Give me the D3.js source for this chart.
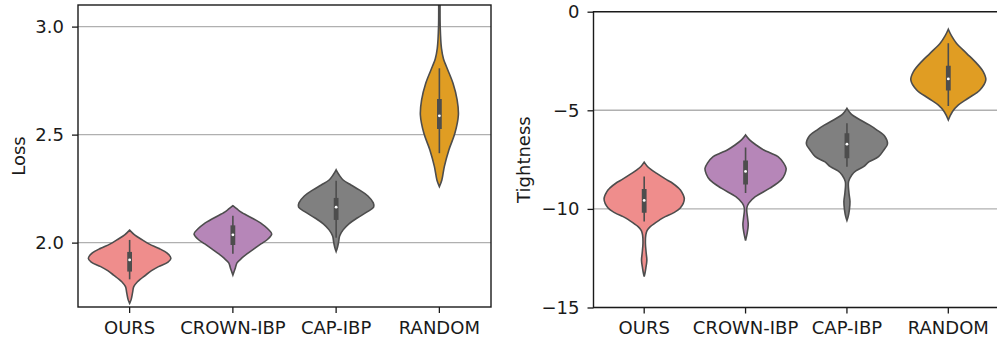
<!DOCTYPE html>
<meta charset="utf-8">
<style>
body {
  margin: 0;
  background: #fff;
}
svg {
  display: block;
}
svg text {
  font-family: "DejaVu Sans", sans-serif;
}
.grid line {
  stroke: #b0b0b0;
  stroke-width: 1.4px;
}
.axis text {
  font-family: "DejaVu Sans", sans-serif;
  font-size: 18px;
  fill: #1a1a1a;
}
.axis line {
  stroke: #1a1a1a;
  stroke-width: 1.3px;
}
.axis path {
  display: none;
}
.frame {
  fill: none;
  stroke: #1a1a1a;
  stroke-width: 1.4px;
}
.violin {
  stroke: #4d4d4d;
  stroke-width: 1.6px;
}
.ylabel {
  font-family: "DejaVu Sans", sans-serif;
  font-size: 18px;
  fill: #1a1a1a;
}
</style>
<svg width="997" height="343"></svg>
<script src="https://d3js.org/d3.v7.min.js"></script>
<script>
const methods = ["OURS", "CROWN-IBP", "CAP-IBP", "RANDOM"];
const fills = ["#ef8d8c", "#b686b8", "#808080", "#e09d23"];

// violin outlines: [value, relative density]
const lossOurs = [[2.058, 0], [2.036, 0.12], [2.0125, 0.31], [1.993, 0.48], [1.974, 0.70],
  [1.951, 0.91], [1.928, 1.0], [1.910, 0.93], [1.889, 0.70], [1.870, 0.53], [1.850, 0.39],
  [1.819, 0.19], [1.796, 0.10], [1.767, 0.07], [1.735, 0.035], [1.719, 0]];
const lossCrown = [[2.171, 0], [2.156, 0.10], [2.142, 0.19], [2.114, 0.46], [2.087, 0.70],
  [2.063, 0.85], [2.040, 0.94], [2.017, 0.85], [1.994, 0.68], [1.971, 0.51], [1.948, 0.34],
  [1.929, 0.22], [1.906, 0.10], [1.883, 0.06], [1.850, 0]];
const lossCap = [[2.337, 0], [2.314, 0.07], [2.290, 0.17], [2.267, 0.36], [2.244, 0.56],
  [2.216, 0.77], [2.184, 0.90], [2.165, 0.91], [2.142, 0.75], [2.114, 0.51], [2.087, 0.31],
  [2.059, 0.17], [2.031, 0.085], [2.003, 0.06], [1.980, 0.035], [1.959, 0]];
const lossRandom = [[3.30, 0], [3.15, 0.015], [3.00, 0.02], [2.90, 0.05], [2.85, 0.10],
  [2.815, 0.17], [2.738, 0.33], [2.661, 0.43], [2.591, 0.46], [2.506, 0.375], [2.429, 0.23],
  [2.352, 0.12], [2.290, 0.06], [2.259, 0]];

const tightOurs = [[-7.63, 0], [-7.85, 0.08], [-8.02, 0.18], [-8.19, 0.30], [-8.53, 0.56],
  [-8.70, 0.70], [-8.95, 0.85], [-9.12, 0.92], [-9.49, 0.99], [-9.96, 0.89], [-10.2, 0.72],
  [-10.39, 0.52], [-10.56, 0.38], [-10.90, 0.15], [-11.1, 0.07], [-11.32, 0.04],
  [-11.74, 0.03], [-12.25, 0.05], [-12.6, 0.066], [-13.01, 0.04], [-13.25, 0.02], [-13.43, 0]];
const tightCrown = [[-6.25, 0], [-6.5, 0.10], [-6.76, 0.26], [-7.01, 0.45], [-7.18, 0.63],
  [-7.35, 0.80], [-7.68, 0.94], [-7.94, 1.0], [-8.23, 0.97], [-8.53, 0.88], [-8.95, 0.60],
  [-9.38, 0.24], [-9.71, 0.08], [-9.96, 0.03], [-10.47, 0.05], [-10.81, 0.066],
  [-11.23, 0.04], [-11.60, 0]];
const tightCap = [[-4.90, 0], [-5.18, 0.10], [-5.49, 0.33], [-5.74, 0.55], [-6.00, 0.74],
  [-6.34, 0.94], [-6.71, 1.0], [-7.01, 0.91], [-7.35, 0.78], [-7.62, 0.54], [-7.86, 0.41],
  [-8.07, 0.22], [-8.28, 0.12], [-8.62, 0.04], [-9.20, 0.05], [-9.63, 0.075],
  [-10.05, 0.06], [-10.39, 0.03], [-10.59, 0]];
const tightRandom = [[-0.89, 0], [-1.23, 0.08], [-1.60, 0.20], [-2.11, 0.45], [-2.62, 0.70],
  [-3.04, 0.86], [-3.46, 0.925], [-3.97, 0.78], [-4.39, 0.49], [-4.73, 0.25], [-5.07, 0.10],
  [-5.49, 0]];

// inner boxes: [whisker low, q1, median, q3, whisker high]
const lossBoxes = [[1.830, 1.866, 1.920, 1.957, 2.0125], [1.948, 1.989, 2.036, 2.080, 2.124],
  [2.022, 2.105, 2.164, 2.207, 2.287], [2.414, 2.526, 2.587, 2.665, 2.807]];
const tightBoxes = [[-10.64, -10.20, -9.57, -8.99, -8.36], [-9.19, -8.76, -8.10, -7.54, -6.89],
  [-7.86, -7.43, -6.72, -6.16, -5.66], [-4.78, -4.00, -3.41, -2.74, -1.60]];

const lossTicks = [2.0, 2.5, 3.0];
const tightTicks = [-15, -10, -5, 0];

const svg = d3.select("svg");

function panel(cfg) {
  const x = d3.scaleBand().domain(methods).range([cfg.left, cfg.right]).padding(0);
  const y = d3.scaleLinear().domain(cfg.domain).range([cfg.bottom, cfg.top]);
  const g = svg.append("g");

  g.append("clipPath").attr("id", cfg.id)
    .append("rect")
    .attr("x", cfg.left).attr("y", cfg.top)
    .attr("width", cfg.right - cfg.left).attr("height", cfg.bottom - cfg.top);

  g.append("g").attr("class", "grid")
    .selectAll("line").data(cfg.ticks).join("line")
    .attr("x1", cfg.left).attr("x2", cfg.right)
    .attr("y1", d => y(d)).attr("y2", d => y(d));

  const plot = g.append("g").attr("clip-path", `url(#${cfg.id})`);
  const half = x.bandwidth() * 0.4;

  cfg.violins.forEach((pts, i) => {
    const cx = x(methods[i]) + x.bandwidth() / 2;
    const area = d3.area()
      .curve(d3.curveCatmullRom)
      .y(d => y(d[0]))
      .x0(d => cx - half * d[1])
      .x1(d => cx + half * d[1]);
    plot.append("path")
      .attr("class", "violin")
      .attr("fill", fills[i])
      .attr("d", area(pts));

    const b = cfg.boxes[i];
    plot.append("line")
      .attr("x1", cx).attr("x2", cx)
      .attr("y1", y(b[0])).attr("y2", y(b[4]))
      .attr("stroke", "#4d4d4d").attr("stroke-width", 1.6);
    plot.append("line")
      .attr("x1", cx).attr("x2", cx)
      .attr("y1", y(b[1])).attr("y2", y(b[3]))
      .attr("stroke", "#4d4d4d").attr("stroke-width", 4.8);
    plot.append("circle")
      .attr("cx", cx).attr("cy", y(b[2])).attr("r", 1.4)
      .attr("fill", "#fff");
  });

  g.append("g").attr("class", "axis")
    .attr("transform", `translate(${cfg.left},0)`)
    .call(d3.axisLeft(y).tickValues(cfg.ticks).tickSize(6).tickPadding(8).tickFormat(cfg.fmt));

  g.append("g").attr("class", "axis")
    .attr("transform", `translate(0,${cfg.bottom})`)
    .call(d3.axisBottom(x).tickSize(6).tickPadding(8));

  g.append("rect").attr("class", "frame")
    .attr("x", cfg.left).attr("y", cfg.top)
    .attr("width", cfg.right - cfg.left).attr("height", cfg.bottom - cfg.top);

  g.append("text").attr("class", "ylabel")
    .attr("transform", `translate(${cfg.labelX},${(cfg.top + cfg.bottom) / 2}) rotate(-90)`)
    .attr("text-anchor", "middle")
    .text(cfg.label);
}

panel({
  id: "clipLoss", left: 78, right: 491, top: 5, bottom: 307,
  domain: [1.702, 3.1], ticks: lossTicks, fmt: d3.format(".1f"),
  violins: [lossOurs, lossCrown, lossCap, lossRandom], boxes: lossBoxes,
  label: "Loss", labelX: 25
});

panel({
  id: "clipTight", left: 593.5, right: 999, top: 11.7, bottom: 307.5,
  domain: [-15, 0], ticks: tightTicks, fmt: d3.format("d"),
  violins: [tightOurs, tightCrown, tightCap, tightRandom], boxes: tightBoxes,
  label: "Tightness", labelX: 530
});
</script>
